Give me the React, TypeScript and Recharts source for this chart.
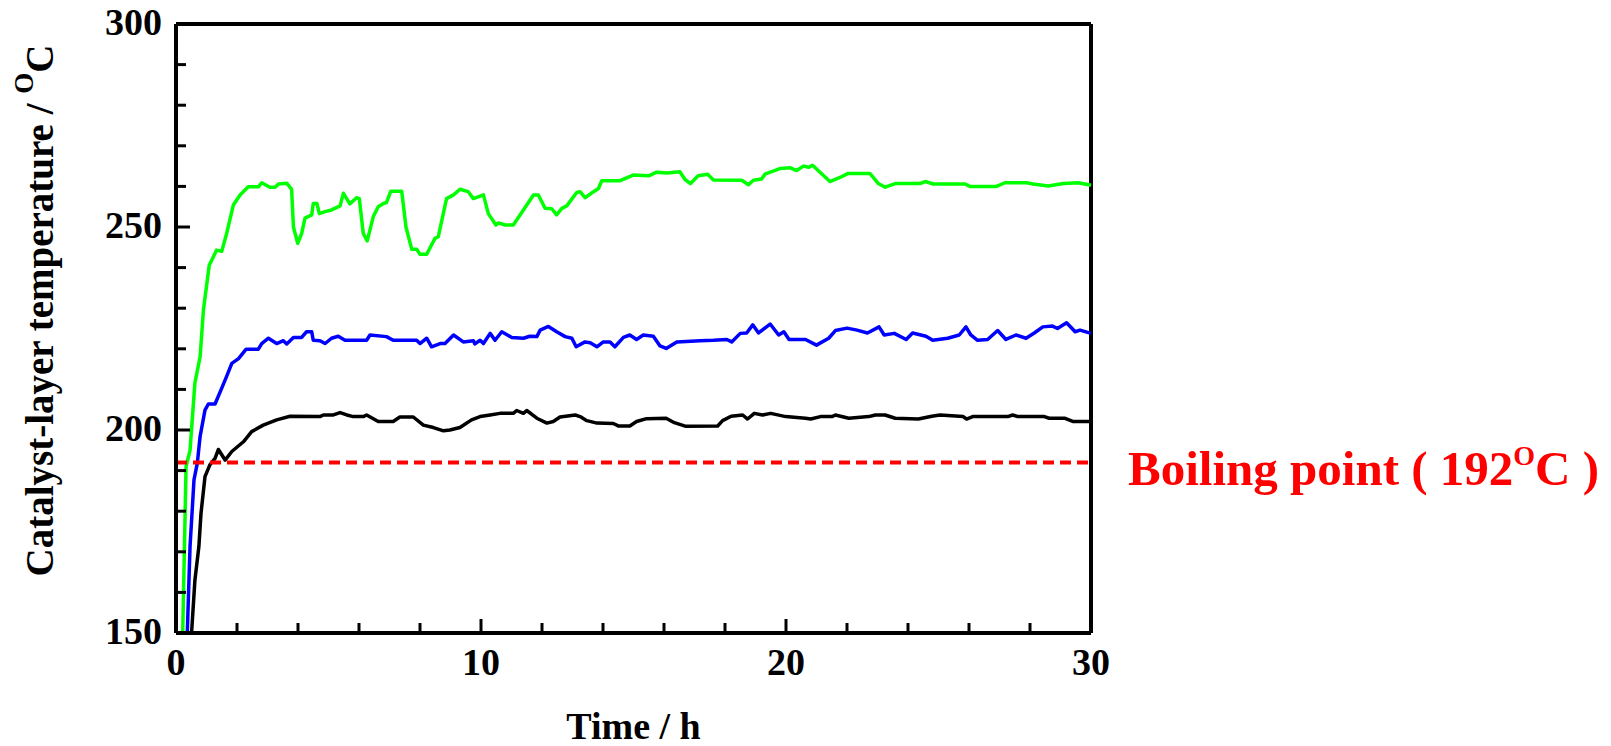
import { LineChart, Line, XAxis, YAxis, ReferenceLine } from "recharts";

const FONT = "'Liberation Serif', 'Times New Roman', Times, serif";

// green run (highest catalyst-layer temperature)
const greenTime = [
  0.22, 0.33, 0.46, 0.62, 0.79, 0.9, 1.09, 1.33, 1.5, 1.66, 1.88, 2.1, 2.37, 2.7, 2.81, 3.08, 3.25, 3.36,
  3.63, 3.79, 3.85, 3.99, 4.12, 4.23, 4.45, 4.5, 4.62, 4.7, 4.89, 5.1, 5.38, 5.49, 5.7, 5.92, 6.01, 6.14,
  6.27, 6.47, 6.63, 6.8, 6.9, 7.04, 7.4, 7.54, 7.73, 7.89, 8.0, 8.22, 8.49, 8.6, 8.87, 9.1, 9.31, 9.58,
  9.75, 10.08, 10.24, 10.49, 10.57, 10.79, 11.06, 11.39, 11.72, 11.88, 12.1, 12.32, 12.48, 12.65, 12.81,
  13.14, 13.25, 13.41, 13.69, 13.85, 13.96, 14.56, 14.99, 15.5, 15.76, 16.1, 16.52, 16.69, 16.87, 17.12,
  17.43, 17.62, 18.55, 18.77, 18.93, 19.2, 19.31, 19.8, 20.13, 20.35, 20.57, 20.74, 20.87, 21.44, 21.77,
  22.04, 22.75, 23.03, 23.25, 23.58, 24.39, 24.56, 24.83, 25.87, 26.03, 26.9, 27.18, 27.89, 28.1, 28.6,
  29.09, 29.58, 30,
];
const greenTemp = [
  150, 191, 195, 211.6, 218, 229.6, 240.6, 244.3, 244, 248.4, 255.4, 257.9, 259.9, 259.9, 260.9, 259.8, 259.8, 260.6,
  260.8, 259.3, 250, 246, 248.4, 252.2, 253, 255.8, 255.8, 253.3, 253.8, 254.2, 255.2, 258.3, 255.7, 257.2, 257, 248.4,
  246.6, 252.6, 255, 255.8, 256, 258.8, 258.8, 250, 244.5, 244.5, 243.3, 243.3, 247.2, 247.6, 257, 257.9, 259.3, 258.7,
  257, 257.9, 253.3, 250.5, 251, 250.5, 250.5, 254.2, 257.9, 257.9, 254.6, 254.5, 253, 254.6, 255.2,
  258.5, 258.7, 257.2, 258.7, 259.5, 261.4, 261.4, 262.8, 262.6, 263.5, 263.3, 263.6, 261.7, 260.7, 262.6,
  263, 261.6, 261.5, 260.4, 261.5, 261.8, 263, 264.4, 264.6, 263.9, 265, 264.7, 265.2, 261.2, 262.2,
  263.2, 263.2, 260.7, 259.8, 260.7, 260.7, 261.2, 260.6, 260.6, 260, 260, 260.9, 260.9, 260.6, 260.1,
  260.7, 260.9, 260.3,
];

// blue run
const blueTime = [
  0.37, 0.46, 0.59, 0.7, 0.79, 0.95, 1.06, 1.28, 1.5, 1.66, 1.83, 2.05, 2.3, 2.7, 2.81, 3.03, 3.3, 3.52, 3.63,
  3.85, 4.12, 4.28, 4.45, 4.5, 4.72, 4.89, 5.1, 5.32, 5.54, 6.25, 6.36, 6.9, 7.12, 7.89, 8.0, 8.22, 8.38,
  8.66, 8.82, 9.1, 9.42, 9.75, 9.8, 9.97, 10.08, 10.3, 10.46, 10.68, 11.01, 11.39, 11.6, 11.83, 11.94,
  12.21, 12.48, 12.76, 12.98, 13.12, 13.41, 13.58, 13.8, 14.01, 14.23, 14.39, 14.67, 14.88, 15.1, 15.32,
  15.65, 15.87, 16.07, 16.42, 17.18, 17.62, 18.06, 18.22, 18.5, 18.71, 18.91, 19.1, 19.48, 19.76, 19.93,
  20.1, 20.64, 21.0, 21.4, 21.62, 22.0, 22.33, 22.67, 23.05, 23.22, 23.55, 23.94, 24.15, 24.59, 24.81,
  25.3, 25.68, 25.9, 26.06, 26.28, 26.61, 26.94, 27.21, 27.54, 27.87, 28.14, 28.42, 28.74, 28.9, 29.2,
  29.48, 29.64, 30,
];
const blueTemp = [
  150, 171.3, 187.7, 191.9, 198.4, 204.9, 206.4, 206.4, 210.3, 213.2, 216.4, 217.6, 219.9, 219.9, 221.3, 222.6, 221.3, 222, 221.2,
  222.8, 222.8, 224.2, 224.2, 222.1, 222, 221.3, 222.6, 223.1, 222.1, 222.1, 223.4, 223, 222.1, 222.1, 221.3, 222.6, 220.5,
  221.3, 221.3, 223.4, 221.7, 222, 221.2, 222.1, 221.3, 223.8, 222.1, 224.2, 222.8, 222.6, 223.1, 223, 224.6,
  225.5, 224.2, 223, 222.6, 220.5, 221.7, 221.5, 220.5, 221.7, 221.7, 220.5, 222.8, 223.4, 222.3, 223.4,
  223.1, 220.7, 220.1, 221.7, 222, 222.1, 222.3, 221.7, 223.8, 223.9, 225.9, 223.9, 226.1, 223.4, 224.2,
  222.3, 222.3, 220.9, 222.6, 224.5, 225.1, 224.6, 223.9, 225.4, 223.4, 223.8, 222.3, 223.9, 223.1, 222.1,
  222.6, 223.4, 225.4, 223.4, 222.1, 222.3, 224.5, 222.3, 223.4, 222.6, 223.9, 225.4, 225.6, 225, 226.4,
  224.2, 224.6, 223.8,
];

// black run (lowest, just above the boiling point)
const blackTime = [
  0.51, 0.62, 0.75, 0.82, 0.95, 1.11, 1.28, 1.39, 1.61, 1.83, 2.21, 2.48, 2.86, 3.3, 3.74, 4.72, 4.83, 5.16,
  5.38, 5.6, 5.81, 6.14, 6.25, 6.63, 7.12, 7.34, 7.78, 8.11, 8.44, 8.77, 8.98, 9.31, 9.69, 9.97, 10.3,
  10.62, 11.06, 11.17, 11.39, 11.5, 11.83, 12.16, 12.37, 12.59, 13.09, 13.25, 13.47, 13.8, 14.34, 14.5,
  14.88, 15.1, 15.43, 16.07, 16.34, 16.72, 17.76, 17.92, 18.2, 18.58, 18.74, 18.96, 19.23, 19.5, 19.99,
  20.64, 20.81, 21.13, 21.51, 21.62, 22.06, 22.71, 22.93, 23.25, 23.58, 24.34, 24.78, 25.05, 25.81, 25.92,
  26.12, 27.27, 27.43, 27.6, 28.47, 28.63, 29.13, 29.4, 30,
];
const blackTemp = [
  150, 163, 171.3, 179.5, 188.5, 191.4, 193, 195.2, 192.6, 194.7, 197.1, 199.6, 201.2, 202.5, 203.4, 203.3, 203.7, 203.7,
  204.3, 203.7, 203.3, 203.3, 203.7, 202.1, 202.1, 203.2, 203.2, 201.2, 200.6, 199.8, 200, 200.6, 202.5, 203.3, 203.7,
  204.1, 204.1, 204.8, 204.1, 204.8, 202.9, 201.7, 202.1, 203.2, 203.7, 203.3, 202.3, 201.7, 201.6, 201,
  201, 202.1, 202.8, 202.9, 201.8, 200.9, 201, 202.3, 203.4, 203.7, 202.7, 204.1, 203.7, 204.1, 203.3,
  202.9, 202.7, 203.3, 203.3, 203.7, 202.9, 203.3, 203.7, 203.7, 202.9, 202.7, 203.4, 203.7, 203.3, 202.7,
  203.3, 203.3, 203.7, 203.3, 203.3, 202.9, 202.9, 202.1, 202.1,
];

const xTicks = [0, 2, 4, 6, 8, 10, 12, 14, 16, 18, 20, 22, 24, 26, 28, 30];
const yTicks = [150, 160, 170, 180, 190, 200, 210, 220, 230, 240, 250, 260, 270, 280, 290, 300];
const BOILING_POINT = 192;

function toPoints(time: number[], temp: number[]) {
  return time.map((t, i) => ({ time: t, temp: temp[i] }));
}

const series = [
  { name: "green", color: "#00ff00", data: toPoints(greenTime, greenTemp) },
  { name: "blue", color: "#0000ff", data: toPoints(blueTime, blueTemp) },
  { name: "black", color: "#000000", data: toPoints(blackTime, blackTemp) },
];

const textStyle = { fontFamily: FONT, fontWeight: 700 };

// ticks point into the plot, labels only on the major ones
function XTick({ x, y, payload }: any) {
  const major = payload.value % 10 === 0;
  return (
    <g>
      <line x1={x} x2={x} y1={y} y2={y - (major ? 14 : 10)} stroke="#000" strokeWidth={3} />
      {major && (
        <text x={x} y={y + 42} textAnchor="middle" fontSize={38} fill="#000" style={textStyle}>
          {payload.value}
        </text>
      )}
    </g>
  );
}

function YTick({ x, y, payload }: any) {
  const major = payload.value % 50 === 0;
  return (
    <g>
      <line x1={x} x2={x + (major ? 14 : 10)} y1={y} y2={y} stroke="#000" strokeWidth={3} />
      {major && (
        <text x={x - 14} y={y + 11} textAnchor="end" fontSize={38} fill="#000" style={textStyle}>
          {payload.value}
        </text>
      )}
    </g>
  );
}

function YLabel({ viewBox }: any) {
  const cx = viewBox.x + 53;
  const cy = viewBox.y + viewBox.height / 2 - 18;
  return (
    <text
      transform={`translate(${cx},${cy}) rotate(-90)`}
      textAnchor="middle"
      fontSize={39}
      fill="#000"
      style={textStyle}
    >
      Catalyst-layer temperature /{" "}
      <tspan dy={-20} fontSize={27}>O</tspan>
      <tspan dy={20}>C</tspan>
    </text>
  );
}

function XLabel({ viewBox }: any) {
  return (
    <text
      x={viewBox.x + viewBox.width / 2}
      y={viewBox.y + 106}
      textAnchor="middle"
      fontSize={38}
      fill="#000"
      style={textStyle}
    >
      Time / h
    </text>
  );
}

function BoilingLabel({ viewBox }: any) {
  return (
    <text
      x={viewBox.x + viewBox.width + 37}
      y={viewBox.y + 23}
      fontSize={49}
      fill="#ff0000"
      style={textStyle}
    >
      Boiling point ( 192
      <tspan dy={-20} fontSize={28}>O</tspan>
      <tspan dy={20}>C )</tspan>
    </text>
  );
}

export default function App() {
  return (
    <div style={{ position: "absolute", left: 0, top: 0, background: "#fff" }}>
      <LineChart width={1611} height={746} margin={{ top: 24, right: 520, bottom: 0, left: 0 }}>
        <XAxis
          dataKey="time"
          type="number"
          domain={[0, 30]}
          ticks={xTicks}
          interval={0}
          tick={(props: any) => <XTick {...props} />}
          tickLine={false}
          tickSize={0}
          tickMargin={0}
          height={113}
          axisLine={{ stroke: "#000", strokeWidth: 4 }}
          label={(props: any) => <XLabel {...props} />}
        />
        <YAxis
          type="number"
          domain={[150, 300]}
          ticks={yTicks}
          interval={0}
          tick={(props: any) => <YTick {...props} />}
          tickLine={false}
          tickSize={0}
          tickMargin={0}
          width={176}
          axisLine={{ stroke: "#000", strokeWidth: 4 }}
          label={(props: any) => <YLabel {...props} />}
        />
        <ReferenceLine y={300} stroke="#000" strokeWidth={4} />
        <ReferenceLine x={30} stroke="#000" strokeWidth={4} />
        {series.map((s) => (
          <Line
            key={s.name}
            data={s.data}
            dataKey="temp"
            type="linear"
            stroke={s.color}
            strokeWidth={3.5}
            strokeLinejoin="round"
            dot={false}
            activeDot={false}
            isAnimationActive={false}
          />
        ))}
        <ReferenceLine
          y={BOILING_POINT}
          stroke="#ff0000"
          strokeWidth={4}
          strokeDasharray="11 6"
          label={(props: any) => <BoilingLabel {...props} />}
        />
      </LineChart>
    </div>
  );
}
